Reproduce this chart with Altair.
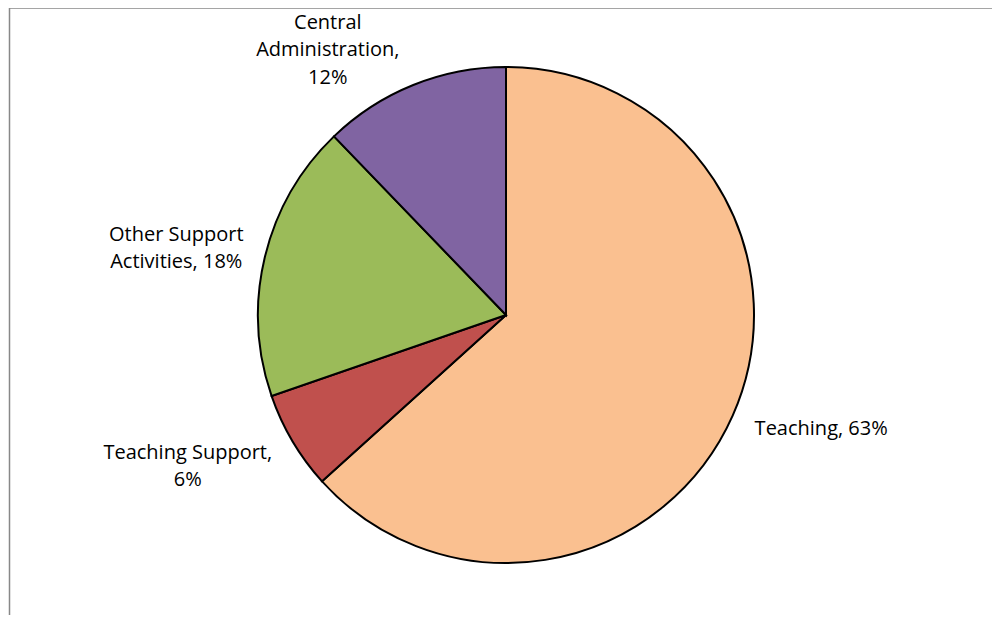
import altair as alt
import pandas as pd

categories = ["Teaching", "Teaching Support", "Other Support Activities", "Central Administration"]
values = [63.3, 6.4, 18.1, 12.2]
label_lines = [
    ["Teaching, 63%"],
    ["Teaching Support,", "6%"],
    ["Other Support", "Activities, 18%"],
    ["Central", "Administration,", "12%"],
]
colors = ["#FAC090", "#C0504D", "#9BBB59", "#8064A2"]

# layout / style settings (not data)
W, H = 984, 607
CX, CY = 498, 307          # pie centre inside the view
PIE_R = 248
LABEL_R = 300
label_offsets = {
    "Teaching": (41, -8),
    "Teaching Support": (-60, -15),
    "Other Support Activities": (-38, -10),
    "Central Administration": (-66, -14),
}
FONT = "Open Sans"
FONT_SIZE = 20

df = pd.DataFrame({
    "category": categories,
    "value": values,
    "order": list(range(len(categories))),
    "label": ["\n".join(l) for l in label_lines],
})
total = sum(values)

frame = alt.Chart(pd.DataFrame({"frame": [0]})).mark_rect(
    fill=None, stroke="#888888", strokeWidth=1.5
).encode(x=alt.value(1.5), x2=alt.value(1100), y=alt.value(0), y2=alt.value(800))

arcs = alt.Chart(df).mark_arc(stroke="black", strokeWidth=2, outerRadius=PIE_R).encode(
    x=alt.value(CX),
    y=alt.value(CY),
    theta=alt.Theta("value:Q", stack=True, scale=alt.Scale(domain=[0, total])),
    color=alt.Color("category:N", scale=alt.Scale(domain=categories, range=colors), legend=None),
    order=alt.Order("order:Q"),
)

layers = [frame, arcs]
for cat in categories:
    dx, dy = label_offsets[cat]
    t = (
        alt.Chart(df)
        .transform_window(cum="sum(value)", sort=[alt.SortField("order")], frame=[None, 0])
        .transform_calculate(mid="datum.cum - datum.value / 2")
        .transform_filter(alt.datum.category == cat)
        .mark_text(radius=LABEL_R, dx=dx, dy=dy, font=FONT, fontSize=FONT_SIZE, lineBreak="\n",
                   align="center", baseline="middle", color="#000000", lineHeight=27.5)
        .encode(
            x=alt.value(CX),
            y=alt.value(CY),
            theta=alt.Theta("mid:Q", stack=False, scale=alt.Scale(domain=[0, total])),
            text="label:N",
        )
    )
    layers.append(t)

chart = (
    alt.layer(*layers)
    .resolve_scale(theta="independent")
    .properties(width=W, height=H, padding=0, autosize="none")
    .configure_view(stroke=None)
)

chart.save("out.html", embed_options={"renderer": "svg", "actions": False})
